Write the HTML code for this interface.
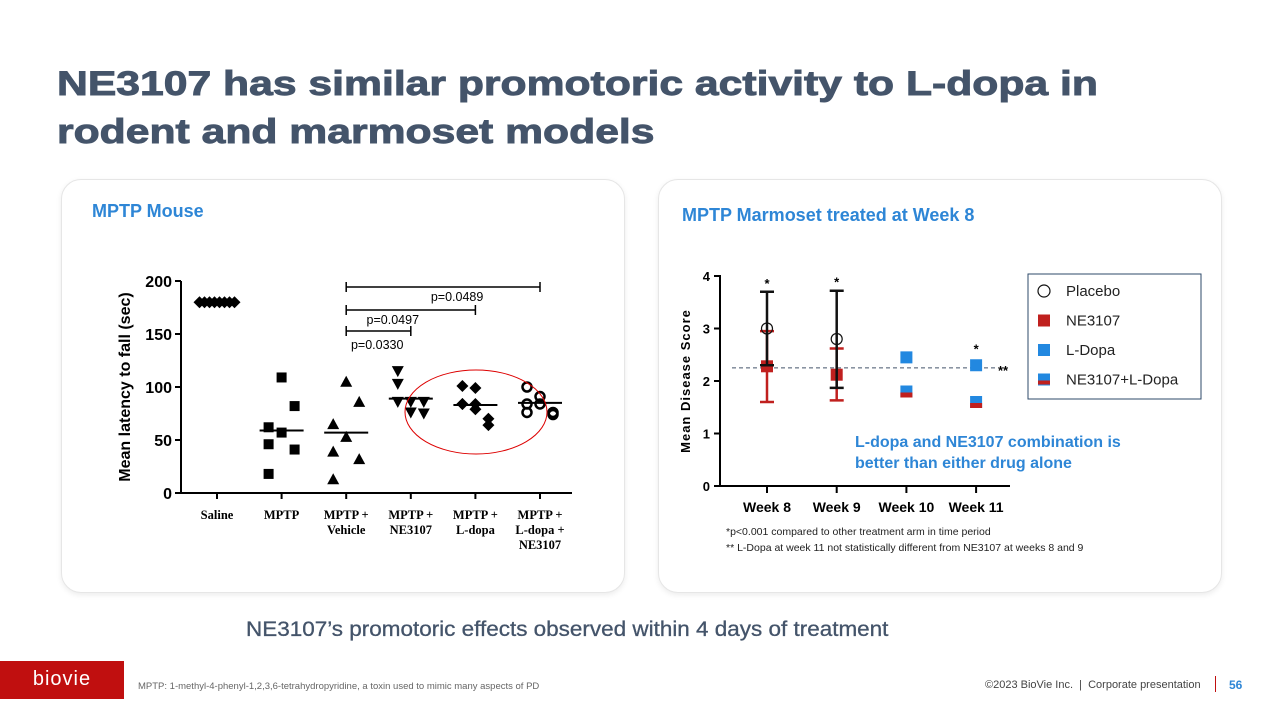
<!DOCTYPE html>
<html><head><meta charset="utf-8"><style>
body{margin:0;width:1280px;height:720px;position:relative;background:#fff;font-family:"Liberation Sans",sans-serif;overflow:hidden}
.t{position:absolute;left:57px;top:60px;font-size:34px;font-weight:bold;color:#44546a;line-height:48px;transform:scaleX(1.255);transform-origin:0 0;-webkit-text-stroke:0.9px #44546a;white-space:nowrap}
.card{position:absolute;top:179px;width:562px;height:412px;border:1px solid #e6e6e6;border-radius:20px;box-shadow:0 2px 6px rgba(0,0,0,0.08);background:#fff}
.h{position:absolute;font-size:18px;font-weight:bold;color:#2e86d6}
svg{position:absolute;left:0;top:0}
</style></head><body>
<div class="t">NE3107 has similar promotoric activity to L-dopa in<br>rodent and marmoset models</div>
<div class="card" style="left:61px"></div>
<div class="card" style="left:658px"></div>
<div class="h" style="left:92px;top:201px">MPTP Mouse</div>
<div class="h" style="left:682px;top:205px">MPTP Marmoset treated at Week 8</div>
<svg id="s" width="1280" height="720"></svg>
<div style="position:absolute;left:246px;top:618px;font-size:21px;color:#44546a;transform:scaleX(1.07);transform-origin:0 0;white-space:nowrap;-webkit-text-stroke:0.3px #44546a">NE3107’s promotoric effects observed within 4 days of treatment</div>
<div style="position:absolute;left:0;top:661px;width:124px;height:38px;background:#c00f0f;color:#fff;font-size:20px;line-height:36px;text-align:center;letter-spacing:1px">biovie</div>
<div style="position:absolute;left:138px;top:681px;font-size:9.5px;color:#666">MPTP: 1-methyl-4-phenyl-1,2,3,6-tetrahydropyridine, a toxin used to mimic many aspects of PD</div>
<div style="position:absolute;left:985px;top:679px;font-size:11px;color:#444">©2023 BioVie Inc. &nbsp;|&nbsp; Corporate presentation</div>
<div style="position:absolute;left:1215px;top:676px;width:1px;height:16px;background:#c00f0f"></div>
<div style="position:absolute;left:1229px;top:678px;font-size:12px;font-weight:bold;color:#2e86d6">56</div>
<script>
// Mouse chart data
const mCats=["Saline","MPTP","MPTP +|Vehicle","MPTP +|NE3107","MPTP +|L-dopa","MPTP +|L-dopa +|NE3107"];
const mPoints=[[180,180,180,180,180,180,180,180],[46,109,82,18,57,41,62],[39,105,86,13,53,32,65],[115,86,75,86,76,86,103],[84,99,64,84,79,70,101,84],[84,91,74,100,84,76,76]];
const mMedians=[180,59,57,89,83,85];
const mTicks=[0,50,100,150,200];
const mShapes=["diamond","square","tri","itri","diamond","circle"];
const pvals=[["p=0.0330",2,3,331],["p=0.0497",2,4,310],["p=0.0489",2,5,287]];
// Marmoset chart data
const weeks=["Week 8","Week 9","Week 10","Week 11"];
const placebo=[3.0,2.8,null,null];const placeboLo=[2.3,1.87];const placeboHi=[3.7,3.72];
const ne=[2.28,2.12,null,null];const neLo=[1.6,1.63];const neHi=[2.95,2.62];
const ldopa=[null,null,2.45,2.3];
const combo=[null,null,1.8,1.6];
const rTicks=[0,1,2,3,4];
const refLine=2.25;

const s=document.getElementById('s');const NS="http://www.w3.org/2000/svg";
function el(t,a,txt){const e=document.createElementNS(NS,t);for(const k in a)e.setAttribute(k,a[k]);if(txt!=null)e.textContent=txt;s.appendChild(e);return e;}
const my=v=>493-v*1.06, mx=i=>217+i*64.6;
let e=el('line',{x1:181,y1:281,x2:181,y2:494,stroke:'#000','stroke-width':2});

e=el('line',{x1:180,y1:493,x2:572,y2:493,stroke:'#000','stroke-width':2});

mTicks.forEach(v=>{el('line',{x1:175,x2:181,y1:my(v),y2:my(v),stroke:'#000','stroke-width':2});
 e=el('text',{x:172,y:my(v)+6,'text-anchor':'end','font-size':16,'font-weight':'bold'},v);
 });
e=el('text',{transform:'translate(130,387) rotate(-90)','text-anchor':'middle','font-size':16,'font-weight':'bold'},'Mean latency to fall (sec)');

mCats.forEach((c,i)=>{el('line',{x1:mx(i),x2:mx(i),y1:493,y2:499,stroke:'#000','stroke-width':2});
 c.split('|').forEach((ln,j)=>{e=el('text',{x:mx(i),y:519+j*15,'text-anchor':'middle','font-size':12.5,'font-weight':'bold','font-family':'Liberation Serif'},ln);
 });
 const pts=mPoints[i],n=pts.length;
 pts.forEach((v,k)=>{const x=i==0?mx(i)+(k-(n-1)/2)*5:mx(i)+((k%3)-1)*13,y=my(v),sh=mShapes[i];let p;
  if(sh=='square')p=el('rect',{x:x-5,y:y-5,width:10,height:10});
  else if(sh=='tri')p=el('polygon',{points:`${x},${y-6} ${x-6},${y+5} ${x+6},${y+5}`});
  else if(sh=='itri')p=el('polygon',{points:`${x},${y+6} ${x-6},${y-5} ${x+6},${y-5}`});
  else if(sh=='diamond')p=el('polygon',{points:`${x},${y-6} ${x+6},${y} ${x},${y+6} ${x-6},${y}`});
  else p=el('circle',{cx:x,cy:y,r:4.5,fill:'none',stroke:'#000','stroke-width':2.5});
  });
 e=el('line',{x1:mx(i)-22,x2:mx(i)+22,y1:my(mMedians[i]),y2:my(mMedians[i]),stroke:'#000','stroke-width':2});
 });
pvals.forEach(p=>{const a=mx(p[1]),b=mx(p[2]),y=p[3];
 el('path',{d:`M${a},${y-5}V${y+5}M${a},${y}H${b}M${b},${y-5}V${y+5}`,stroke:'#000','stroke-width':1.5,fill:'none'});
 const tx=p[2]==3?a+31:(a+b)/2+ (p[2]==4?-18:14);
 e=el('text',{x:tx,y:p[2]==3?y+18:y+14,'text-anchor':'middle','font-size':12.5},p[0]);
 });
e=el('ellipse',{cx:476,cy:412,rx:71,ry:42,fill:'none',stroke:'#d00','stroke-width':1});


const ry=v=>486-v*52.5, rx=i=>767+i*69.7;
el('line',{x1:720,y1:275,x2:720,y2:487,stroke:'#000','stroke-width':2});
el('line',{x1:719,y1:486,x2:1010,y2:486,stroke:'#000','stroke-width':2});
rTicks.forEach(v=>{el('line',{x1:714,x2:720,y1:ry(v),y2:ry(v),stroke:'#000','stroke-width':2});
 e=el('text',{x:710,y:ry(v)+5,'text-anchor':'end','font-size':13,'font-weight':'bold'},v);
 });
e=el('text',{transform:'translate(690,381) rotate(-90)','text-anchor':'middle','font-size':13,'font-weight':'bold','letter-spacing':1},'Mean Disease Score');

weeks.forEach((w,i)=>{el('line',{x1:rx(i),x2:rx(i),y1:486,y2:493,stroke:'#000','stroke-width':2});
 e=el('text',{x:rx(i),y:512,'text-anchor':'middle','font-size':14,'font-weight':'bold'},w);
 });
e=el('line',{x1:732,x2:996,y1:ry(refLine),y2:ry(refLine),stroke:'#44546a','stroke-width':1,'stroke-dasharray':'4,3'});

el('text',{x:998,y:ry(refLine)+7,'font-size':13,'font-weight':'bold'},'**');
function eb(i,lo,hi,c){el('path',{d:`M${rx(i)},${ry(lo)}V${ry(hi)}M${rx(i)-7},${ry(lo)}h14M${rx(i)-7},${ry(hi)}h14`,stroke:c,'stroke-width':2.5,fill:'none'});}
ne.forEach((v,i)=>{if(v==null)return;eb(i,neLo[i],neHi[i],'#c0201e');
 e=el('rect',{x:rx(i)-6,y:ry(v)-6,width:12,height:12,fill:'#c0201e'});});
placebo.forEach((v,i)=>{if(v==null)return;eb(i,placeboLo[i],placeboHi[i],'#111');
 e=el('circle',{cx:rx(i),cy:ry(v),r:5.5,fill:'none',stroke:'#111','stroke-width':1.2});
 el('text',{x:rx(i),y:ry(placeboHi[i])-4,'text-anchor':'middle','font-size':13,'font-weight':'bold'},'*');});
ldopa.forEach((v,i)=>{if(v==null)return;
 e=el('rect',{x:rx(i)-6,y:ry(v)-6,width:12,height:12,fill:'#2288e0'});});
combo.forEach((v,i)=>{if(v==null)return;
 e=el('rect',{x:rx(i)-6,y:ry(v)-6,width:12,height:12,fill:'#2288e0'});
 el('rect',{x:rx(i)-6,y:ry(v)+1,width:12,height:5,fill:'#c0201e'});});
el('text',{x:rx(3),y:ry(ldopa[3])-12,'text-anchor':'middle','font-size':13,'font-weight':'bold'},'*');
e=el('rect',{x:1028,y:274,width:173,height:125,fill:'#fff',stroke:'#2d4a6a','stroke-width':1});

const lg=[["Placebo","c"],["NE3107","#c0201e"],["L-Dopa","#2288e0"],["NE3107+L-Dopa","m"]];
lg.forEach((l,k)=>{const y=291+k*29.5;
 if(l[1]=='c')el('circle',{cx:1044,cy:y,r:6,fill:'none',stroke:'#111','stroke-width':1.2});
 else if(l[1]=='m'){el('rect',{x:1038,y:y-6,width:12,height:12,fill:'#2288e0'});el('rect',{x:1038,y:y+1,width:12,height:4,fill:'#c0201e'});}
 else el('rect',{x:1038,y:y-6,width:12,height:12,fill:l[1]});
 e=el('text',{x:1066,y:y+5,'font-size':15,fill:'#222'},l[0]);});
el('text',{x:855,y:447,'font-size':16,'font-weight':'bold',fill:'#2e86d6'},'L-dopa and NE3107 combination is');
el('text',{x:855,y:468,'font-size':16,'font-weight':'bold',fill:'#2e86d6'},'better than either drug alone');
el('text',{x:726,y:535,'font-size':10.5,fill:'#222'},'*p<0.001 compared to other treatment arm in time period');
el('text',{x:726,y:551,'font-size':10.5,fill:'#222'},'** L-Dopa at week 11 not statistically different from NE3107 at weeks 8 and 9');
</script>
</body></html>
